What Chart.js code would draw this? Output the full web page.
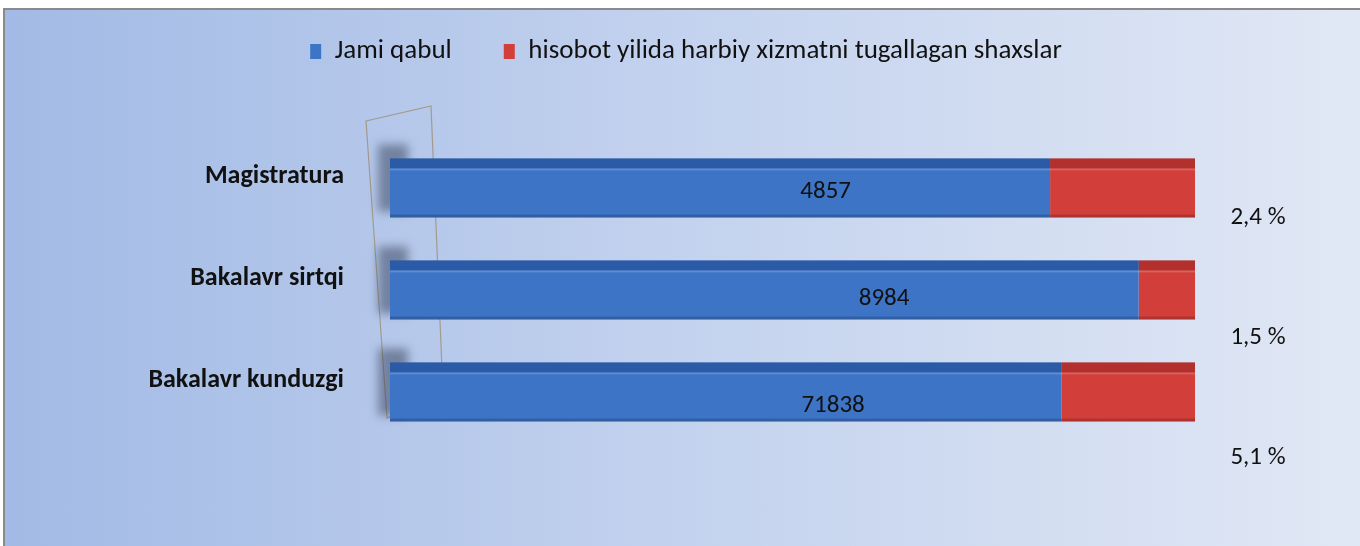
<!DOCTYPE html>
<html>
<head>
<meta charset="utf-8">
<script src="https://cdn.jsdelivr.net/npm/chart.js@4/dist/chart.umd.min.js"></script>
<style>
    html, body { margin: 0; padding: 0; background: #fff; }
    #box {
        position: absolute; left: 3px; top: 8px; width: 1355px; height: 536px;
        border-top: 2px solid #8a8a8a; border-left: 2px solid #8a8a8a;
        background: linear-gradient(to right, #a2bae5 0%, #c3d2ee 50%, #e1e8f5 100%);
    }
</style>
</head>
<body>
<div id="box"><canvas id="chart" width="1355" height="536"></canvas></div>
<script>
// data
const categories = ['Magistratura', 'Bakalavr sirtqi', 'Bakalavr kunduzgi'];
const qabulShare = [82, 93, 83.4];     // blue part of each bar (%)
const xizmatShare = [18, 7, 16.6];     // red part of each bar (%)
const qabulLabels = ['4857', '8984', '71838'];
const xizmatLabels = ['2,4 %', '1,5 %', '5,1 %'];

const FONT = 'Carlito, Calibri, Lato, sans-serif';

// 3d-ish top face, the grey wall and the data labels
const decor = {
    id: 'decor',
    beforeDatasetsDraw(chart) {
        const { ctx, chartArea } = chart;
        const l = chartArea.left, t = chartArea.top, b = chartArea.bottom;
        ctx.save();
        ctx.strokeStyle = '#a29a8c';
        ctx.lineWidth = 1.2;
        ctx.beginPath();
        ctx.moveTo(l - 24, t - 16);
        ctx.lineTo(l + 41, t - 31);
        ctx.lineTo(l + 53, b - 50);
        ctx.lineTo(l - 3, b - 25);
        ctx.closePath();
        ctx.stroke();
        // soft shadows of the bars on the wall
        ctx.filter = 'blur(5px)';
        ctx.fillStyle = 'rgba(50,60,85,0.5)';
        chart.getDatasetMeta(0).data.forEach(bar => {
            ctx.fillRect(l - 12, bar.y - bar.height / 2 - 14, 30, bar.height + 8);
        });
        ctx.restore();
    },
    afterDatasetsDraw(chart) {
        const { ctx, chartArea } = chart;
        ctx.save();
        chart.data.datasets.forEach((ds, di) => {
            const dark = di === 0 ? 'rgba(30,70,140,0.55)' : 'rgba(140,30,30,0.45)';
            chart.getDatasetMeta(di).data.forEach(bar => {
                const top = bar.y - bar.height / 2;
                const left = Math.min(bar.x, bar.base);
                const w = Math.abs(bar.x - bar.base);
                ctx.fillStyle = dark;
                ctx.fillRect(left, top, w, 10);
                ctx.fillStyle = 'rgba(255,255,255,0.18)';
                ctx.fillRect(left, top + 10, w, 2);
                ctx.fillStyle = 'rgba(0,0,0,0.18)';
                ctx.fillRect(left, top + bar.height - 3, w, 3);
            });
        });
        const xs = chart.scales.x;
        ctx.fillStyle = '#111';
        ctx.font = '25px ' + FONT;
        ctx.textAlign = 'center';
        ctx.textBaseline = 'middle';
        chart.getDatasetMeta(0).data.forEach((bar, i) => {
            ctx.fillText(qabulLabels[i], xs.getPixelForValue(qabulShare[i] * 0.66), bar.y + 4 + 5 * i);
        });
        chart.getDatasetMeta(1).data.forEach((bar, i) => {
            ctx.fillText(xizmatLabels[i], chartArea.right + 63, bar.y + 30 + 18 * i);
        });
        ctx.restore();
    }
};

// keep legend high and centred on the whole panel
const legendGap = {
    id: 'legendGap',
    beforeInit(chart) {
        const lg = chart.legend;
        const fit = lg.fit;
        lg.fit = function () {
            fit.bind(lg)();
            this.height = 127;
        };
        const draw = lg.draw;
        lg.draw = function () {
            const ctx = chart.ctx;
            ctx.save();
            ctx.translate(26, -24);
            draw.bind(lg)();
            ctx.restore();
        };
    }
};

new Chart(document.getElementById('chart').getContext('2d'), {
    type: 'bar',
    data: {
        labels: categories,
        datasets: [{
            label: 'Jami qabul',
            data: qabulShare,
            backgroundColor: '#3d74c6',
            borderWidth: 0,
            barPercentage: 0.58,
            categoryPercentage: 1
        }, {
            label: 'hisobot yilida harbiy xizmatni tugallagan shaxslar',
            data: xizmatShare,
            backgroundColor: '#d23f3a',
            borderWidth: 0,
            barPercentage: 0.58,
            categoryPercentage: 1
        }]
    },
    options: {
        indexAxis: 'y',
        responsive: false,
        animation: false,
        layout: { padding: { top: 0, left: 120, right: 165, bottom: 103 } },
        plugins: {
            legend: {
                position: 'top',
                labels: {
                    color: '#111',
                    font: { family: FONT, size: 27 },
                    boxWidth: 11,
                    boxHeight: 15,
                    padding: 52
                }
            },
            tooltip: { enabled: false }
        },
        scales: {
            x: { stacked: true, min: 0, max: 100, display: false },
            y: {
                stacked: true,
                grid: { display: false },
                border: { display: false },
                afterFit(scale) { scale.width = 265; },
                ticks: {
                    color: '#111',
                    font: { family: FONT, size: 26, weight: 'bold' },
                    padding: 38,
                    labelOffset: -12
                }
            }
        }
    },
    plugins: [decor, legendGap]
});
</script>
</body>
</html>
